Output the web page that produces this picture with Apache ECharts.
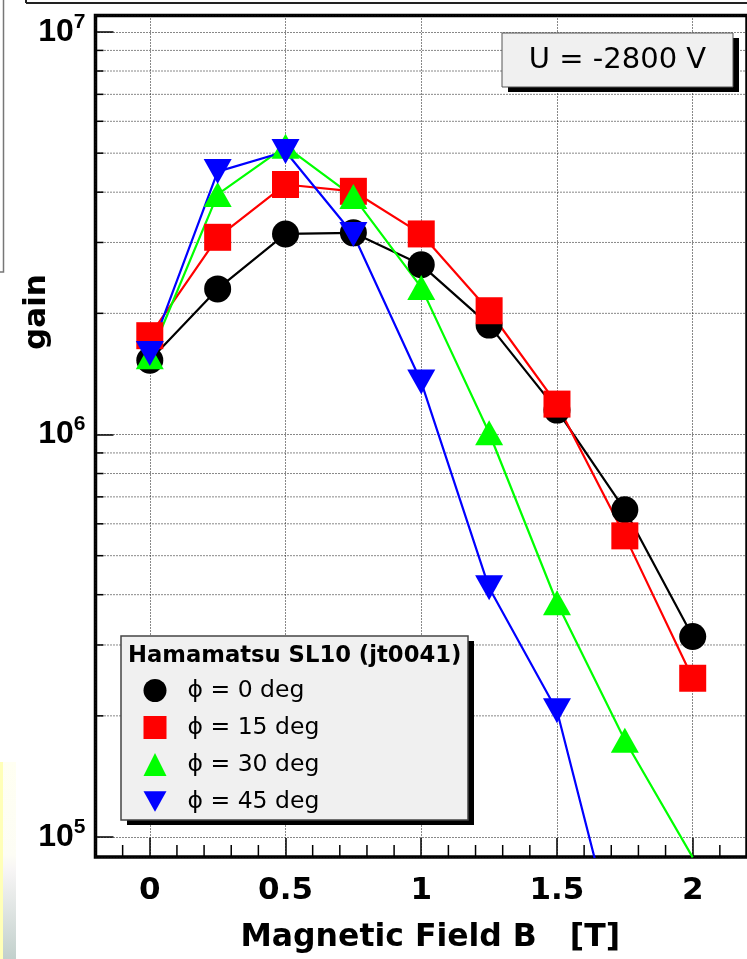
<!DOCTYPE html>
<html><head><meta charset="utf-8">
<script src="https://cdn.jsdelivr.net/npm/echarts@6/dist/echarts.min.js"></script>
<style>html,body{margin:0;padding:0;background:#fff}#c{width:747px;height:959px}</style>
</head><body><div id="c"></div>
<script>
// ---- data ----
const fieldB   = [0, 0.25, 0.5, 0.75, 1.0, 1.25, 1.5, 1.75, 2.0];
const gainPhi0  = [1.53e6, 2.30e6, 3.15e6, 3.17e6, 2.64e6, 1.87e6, 1.15e6, 6.5e5, 3.15e5];
const gainPhi15 = [1.76e6, 3.09e6, 4.18e6, 4.02e6, 3.15e6, 2.03e6, 1.19e6, 5.6e5, 2.48e5];
const gainPhi30 = [1.56e6, 3.95e6, 5.20e6, 3.90e6, 2.32e6, 1.01e6, 3.82e5, 1.74e5, 8.9e4];
const gainPhi45 = [1.59e6, 4.50e6, 5.05e6, 3.14e6, 1.35e6, 4.16e5, 2.06e5, 4.5e4, null];
const seriesNames = ['\u03D5 = 0 deg', '\u03D5 = 15 deg', '\u03D5 = 30 deg', '\u03D5 = 45 deg'];
const legendTitle = 'Hamamatsu SL10 (jt0041)';
const voltageLabel = 'U = -2800 V';
const xTitle = 'Magnetic Field B   [T]';
const yTitle = 'gain';
const xMinorTicks = [-0.1, 0.1, 0.2, 0.3, 0.4, 0.6, 0.7, 0.8, 0.9, 1.1, 1.2, 1.3, 1.4, 1.6, 1.7, 1.8, 1.9, 2.1];
const yMinorTicks = [2e5, 3e5, 4e5, 5e5, 6e5, 7e5, 8e5, 9e5, 2e6, 3e6, 4e6, 5e6, 6e6, 7e6, 8e6, 9e6];
const xMin = -0.2, xMax = 2.2, yMin = 8.92e4, yMax = 1.099e7;

// ---- styles ----
const colors = ['#000000', '#ff0000', '#00ff00', '#0000ff'];
const downTri = 'path://M0,0L20,0L10,18Z';
const symbols = ['circle', 'rect', 'triangle', downTri];
const symbolSizes = [27, 27, [28, 25], [28, 25]];
const gridDash = [1, 2];
const gridColor = '#111';

function pairs(ys) { return fieldB.map((x, i) => [x, ys[i]]); }
const allGain = [gainPhi0, gainPhi15, gainPhi30, gainPhi45];

const chart = echarts.init(document.getElementById('c'), null, {renderer: 'canvas'});

const lineSeries = allGain.map((g, i) => ({
  name: seriesNames[i], type: 'line', data: pairs(g),
  symbol: symbols[i], symbolSize: symbolSizes[i],
  itemStyle: {color: colors[i]},
  lineStyle: {color: colors[i], width: 2.2},
  clip: true, z: 3, connectNulls: false
}));

const option = {
  animation: false,
  backgroundColor: '#ffffff',
  grid: {left: 95.5, top: 15.5, right: -4, bottom: 99, show: true, borderColor: '#000', borderWidth: 3.5, backgroundColor: 'transparent'},
  xAxis: {
    type: 'value', min: xMin, max: xMax, splitNumber: 5,
    axisLine: {show: false, onZero: false},
    axisTick: {show: true, inside: true, length: 19, lineStyle: {color: '#000', width: 1.5}},
    splitLine: {show: true, lineStyle: {color: gridColor, width: 1, type: gridDash}},
    axisLabel: {showMinLabel: false, showMaxLabel: false, margin: 18, color: '#000',
      fontFamily: 'DejaVu Sans', fontWeight: 'bold', fontSize: 31},
    name: xTitle, nameLocation: 'middle', nameGap: 65,
    nameTextStyle: {fontFamily: 'DejaVu Sans', fontWeight: 'bold', fontSize: 31.5, color: '#000', padding: [0, 0, 0, 18]}
  },
  yAxis: {
    type: 'log', logBase: 10, min: yMin, max: yMax,
    axisLine: {show: false, onZero: false},
    axisTick: {show: true, inside: true, length: 18, lineStyle: {color: '#000', width: 1.5}},
    splitLine: {show: true, lineStyle: {color: gridColor, width: 1, type: gridDash}},
    axisLabel: {
      showMinLabel: false, showMaxLabel: false, margin: 10,
      formatter: v => '{b|10}{s|' + Math.round(Math.log10(v)) + '}',
      rich: {
        b: {fontFamily: 'Liberation Sans', fontWeight: 'bold', fontSize: 32, color: '#000', lineHeight: 34},
        s: {fontFamily: 'Liberation Sans', fontWeight: 'bold', fontSize: 21, color: '#000', lineHeight: 22, padding: [0, 0, 20, 0]}
      }
    }
  },
  legend: {
    show: true, orient: 'vertical', left: 143.5, top: 678.5, padding: 0,
    itemWidth: 23, itemHeight: 23, itemGap: 13, selectedMode: false, z: 20,
    data: seriesNames.map((n, i) => ({name: n, icon: symbols[i]})),
    textStyle: {fontFamily: 'DejaVu Sans', fontSize: 23.5, color: '#000', padding: [0, 0, 0, 16]}
  },
  graphic: [
    // slide artifacts
    {type: 'line', shape: {x1: 26, y1: 3, x2: 760, y2: 3}, style: {stroke: '#222', lineWidth: 2}, z: 1},
    {type: 'line', shape: {x1: 26, y1: -2, x2: 26, y2: 3}, style: {stroke: '#222', lineWidth: 2}, z: 1},
    {type: 'polyline', shape: {points: [[3.5, 0], [3.5, 272], [0, 272]]}, style: {stroke: '#777', fill: null, lineWidth: 1.5}, z: 1},
    {type: 'rect', shape: {x: 0, y: 762, width: 16, height: 197},
      style: {fill: new echarts.graphic.LinearGradient(0, 0, 0, 1, [
        {offset: 0, color: '#fffff2'}, {offset: 0.47, color: '#fdfdf5'}, {offset: 0.55, color: '#f7f5f5'}, {offset: 1, color: '#c2d0cc'}])}, z: 1},
    {type: 'rect', shape: {x: 0, y: 762, width: 3, height: 197}, style: {fill: '#ffffb8'}, z: 1},
    // voltage box
    {type: 'rect', shape: {x: 508, y: 38, width: 231, height: 54}, style: {fill: '#000'}, z: 10},
    {type: 'rect', shape: {x: 502, y: 33, width: 231, height: 54}, style: {fill: '#f0f0f0', stroke: '#555', lineWidth: 1}, z: 11},
    {type: 'text', x: 617.5, y: 60, style: {text: voltageLabel, fontFamily: 'DejaVu Sans', fontSize: 29, fill: '#000', align: 'center', verticalAlign: 'middle'}, z: 12},
    // legend box
    {type: 'rect', shape: {x: 127, y: 641, width: 347, height: 184}, style: {fill: '#000'}, z: 10},
    {type: 'rect', shape: {x: 121, y: 636, width: 347, height: 184}, style: {fill: '#f0f0f0', stroke: '#444', lineWidth: 1.5}, z: 11},
    {type: 'text', x: 128, y: 656, style: {text: legendTitle, fontFamily: 'DejaVu Sans', fontWeight: 'bold', fontSize: 22.7, fill: '#000', align: 'left', verticalAlign: 'middle'}, z: 12},
    // y title
    {type: 'text', x: 37, y: 312, rotation: Math.PI / 2, style: {text: yTitle, fontFamily: 'DejaVu Sans', fontWeight: 'bold', fontSize: 31, fill: '#000', align: 'center', verticalAlign: 'middle'}, z: 12}
  ],
  series: [
    {
      type: 'custom', silent: true, z: 1, clip: false,
      data: yMinorTicks.map(v => [0, v]),
      renderItem: function (params, api) {
        const cs = params.coordSys;
        const y = api.coord([0, api.value(1)])[1];
        return {type: 'group', children: [
          {type: 'line', shape: {x1: cs.x, y1: y, x2: cs.x + cs.width, y2: y}, style: {stroke: gridColor, lineWidth: 1, lineDash: gridDash}},
          {type: 'line', shape: {x1: cs.x, y1: y, x2: cs.x + 8, y2: y}, style: {stroke: '#000', lineWidth: 1.5}}
        ]};
      }
    },
    {
      type: 'custom', silent: true, z: 1, clip: false,
      data: xMinorTicks.map(v => [v, 1e6]),
      renderItem: function (params, api) {
        const cs = params.coordSys;
        const x = api.coord([api.value(0), 1e6])[0];
        const yb = cs.y + cs.height;
        return {type: 'line', shape: {x1: x, y1: yb, x2: x, y2: yb - 12}, style: {stroke: '#000', lineWidth: 1.5}};
      }
    }
  ].concat(lineSeries)
};
chart.setOption(option);
</script>
</body></html>
